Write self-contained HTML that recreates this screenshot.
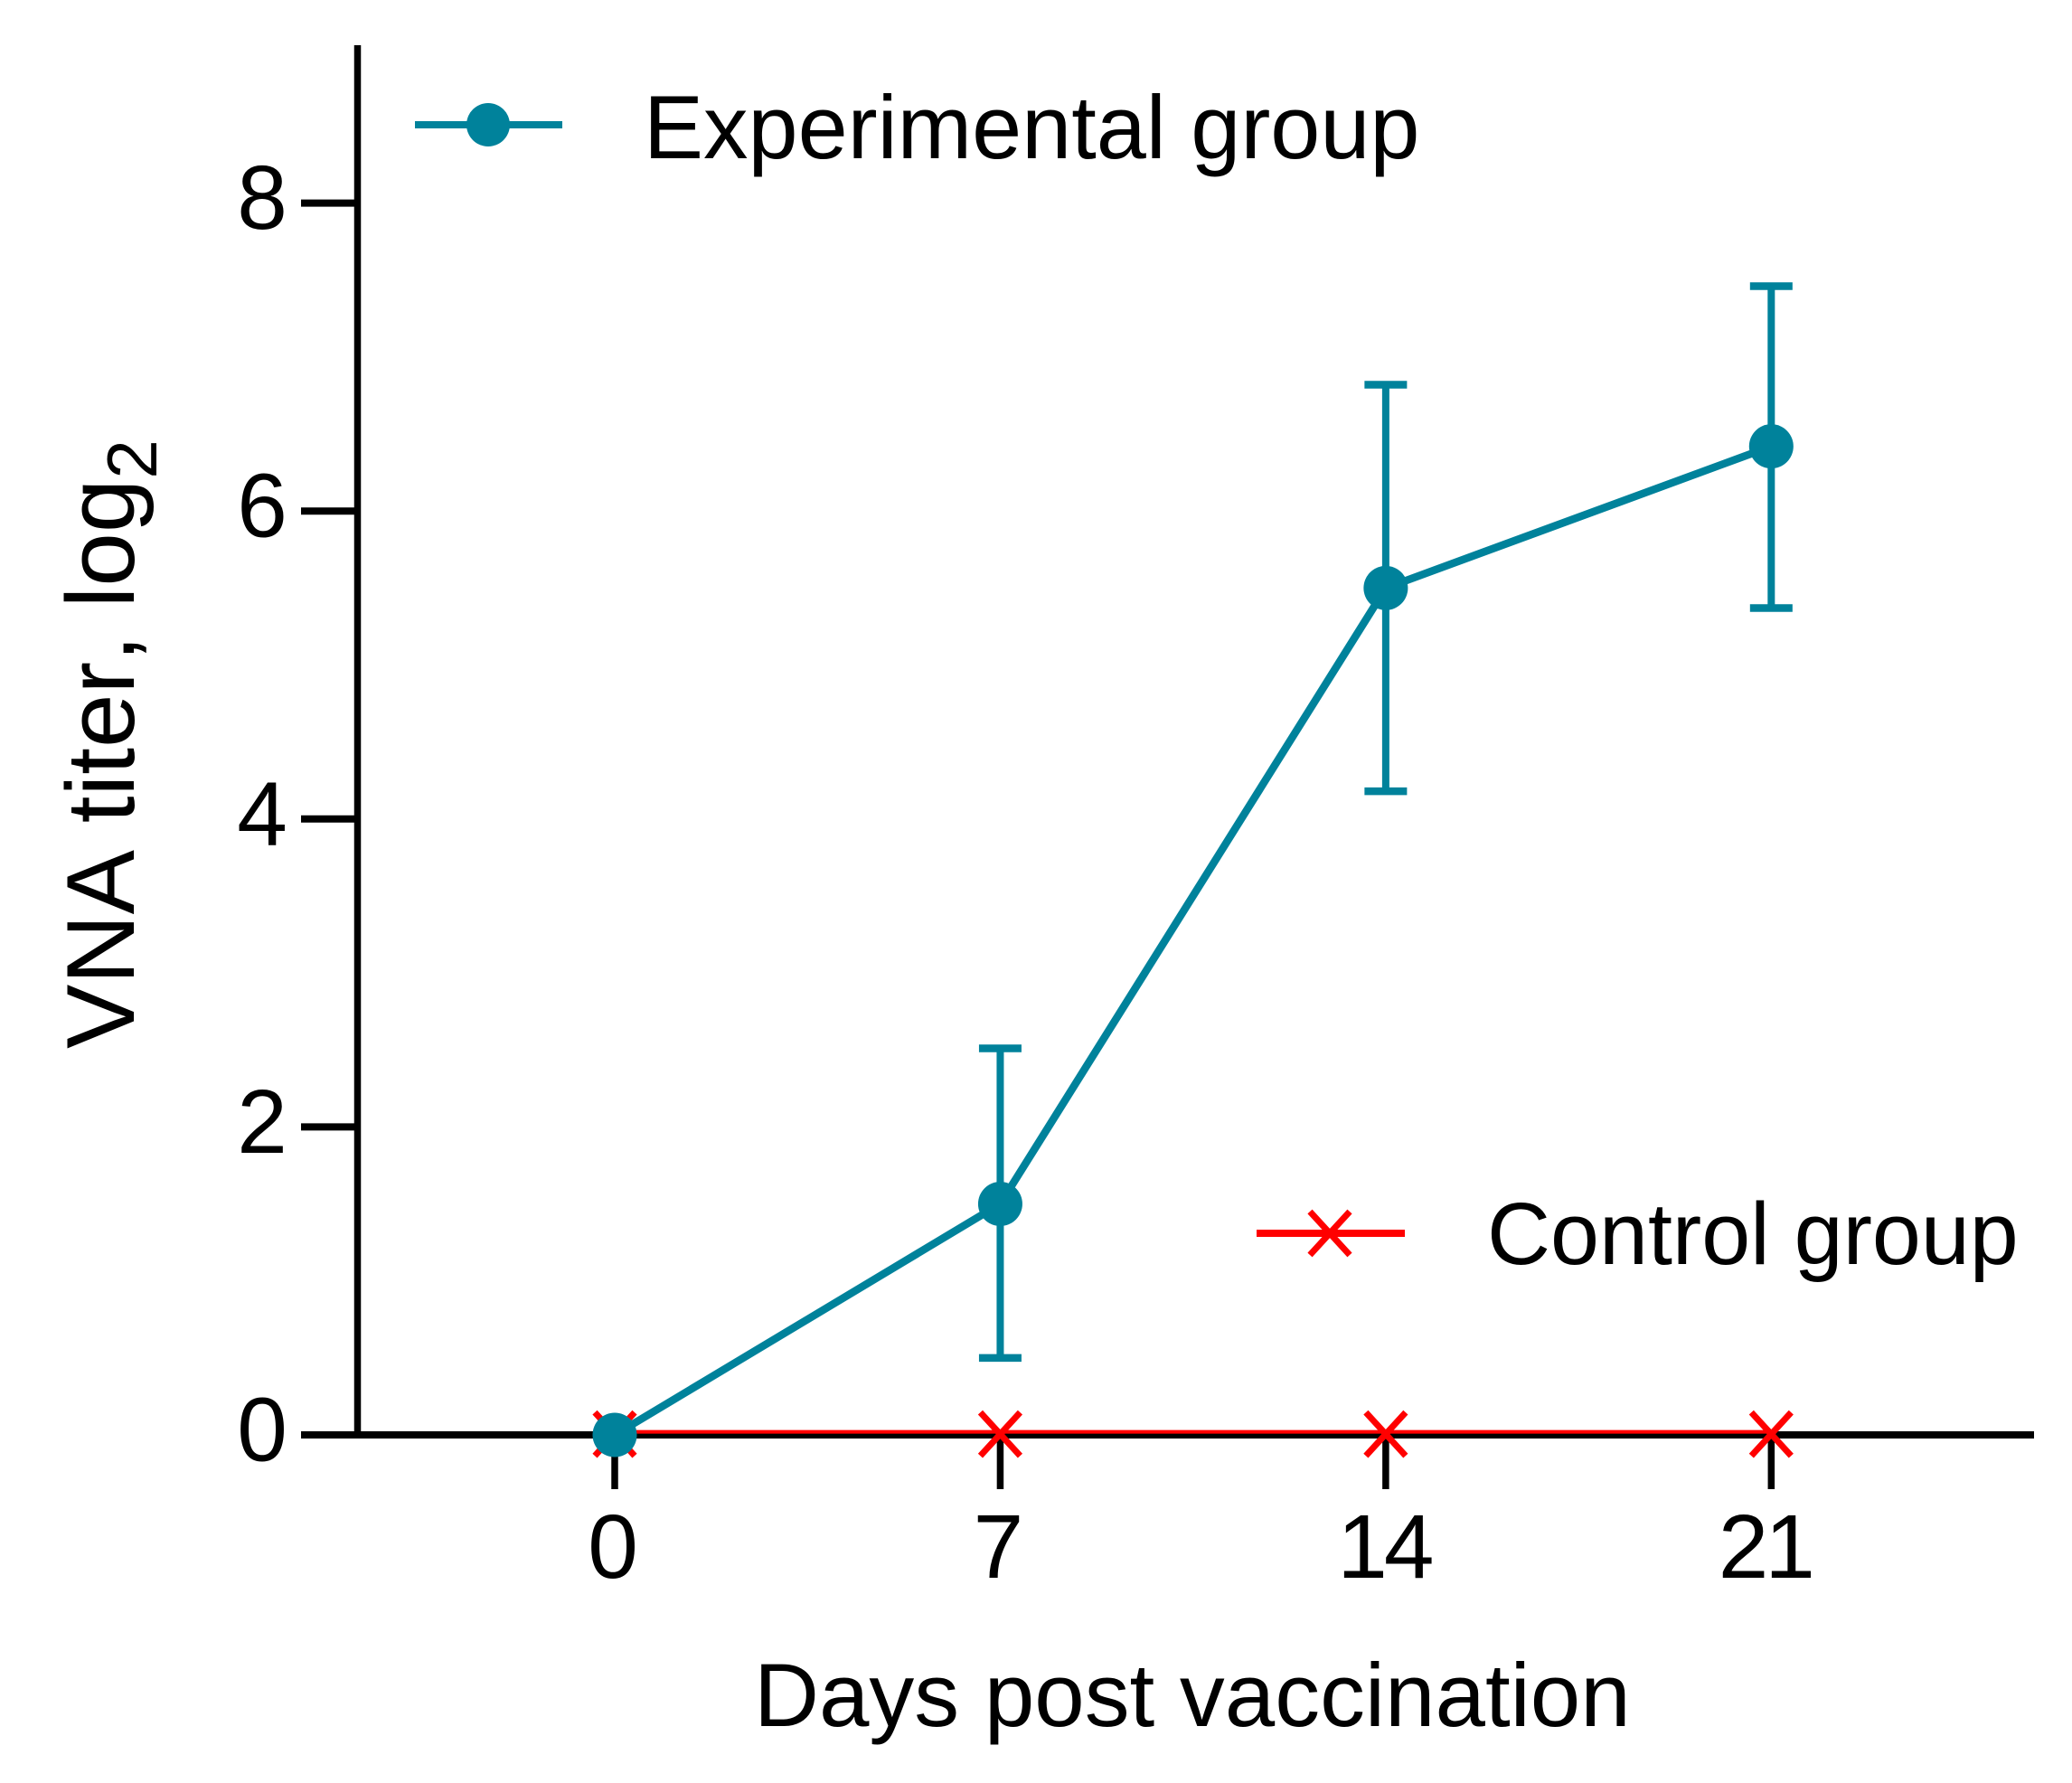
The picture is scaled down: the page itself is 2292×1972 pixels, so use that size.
<!DOCTYPE html>
<html lang="en">
<head>
<meta charset="utf-8">
<title>VNA titer chart</title>
<style>
html,body{margin:0;padding:0;background:#fff;}
svg{display:block;}
text{font-family:"Liberation Sans",Arial,sans-serif;font-size:100px;fill:#000;}
</style>
</head>
<body>
<svg id="chart" xmlns="http://www.w3.org/2000/svg" width="2292" height="1972" viewBox="0 0 2292 1972">
  <rect x="0" y="0" width="2292" height="1972" fill="#fff"/>
  <g id="axes"></g>
  <g id="marks"></g>
  <text x="834" y="1909" style="font-size:99.7px">Days post vaccination</text>
  <text transform="translate(148,1160) rotate(-90)" style="font-size:107px;font-kerning:none">VNA titer, log<tspan dy="25" style="font-size:78px">2</tspan></text>
  <g>
    <line x1="459" y1="138" x2="622" y2="138" stroke="#00829b" stroke-width="8"/>
    <circle cx="540" cy="138" r="24" fill="#00829b"/>
    <text x="712" y="175" style="font-size:99px">Experimental group</text>
  </g>
  <g>
    <line x1="1390" y1="1364" x2="1554" y2="1364" stroke="#ff0000" stroke-width="8"/>
    <path d="M1449 1340L1493 1388M1493 1340L1449 1388" stroke="#ff0000" stroke-width="7" fill="none"/>
    <text x="1645" y="1398" style="font-size:97px">Control group</text>
  </g>
</svg>
<script>
const days = [0, 7, 14, 21];
const xTickLabels = ['0', '7', '14', '21'];
const yTicks = [0, 2, 4, 6, 8];
const experimentalMean = [0, 1.5, 5.5, 6.42];
const experimentalUpper = [0, 2.51, 6.82, 7.46];
const experimentalLower = [0, 0.5, 4.18, 5.37];
const controlMean = [0.02, 0.02, 0.02, 0.02];

const NS = 'http://www.w3.org/2000/svg';
const TEAL = '#00829b';
const RED = '#ff0000';
function xScale(d) { return 680 + d * 60.92; }
function yScale(v) { return 1587 - v * 170.3; }
function make(tag, attrs, parent) {
  const el = document.createElementNS(NS, tag);
  for (const k in attrs) el.setAttribute(k, attrs[k]);
  parent.appendChild(el);
  return el;
}
const axes = document.getElementById('axes');
const marks = document.getElementById('marks');

const yAxis = make('line', {x1: 395.5, y1: 50, x2: 395.5, y2: yScale(0) + 3.5, stroke: '#000', 'stroke-width': 7.5}, axes);


const xAxis = make('line', {x1: 333, y1: yScale(0), x2: 2250, y2: yScale(0), stroke: '#000', 'stroke-width': 8}, axes);



yTicks.forEach(function (t) {
  const y = yScale(t);
  if (t !== 0) {
    const tick = make('line', {x1: 333, y1: y, x2: 395, y2: y, stroke: '#000', 'stroke-width': 8}, axes);
    
    
  }
  const label = make('text', {x: 290, y: y + 28.5, 'text-anchor': 'middle'}, axes);
  
  
  label.textContent = String(t);
});

days.forEach(function (d, i) {
  const x = xScale(d);
  const tick = make('line', {x1: x, y1: yScale(0), x2: x, y2: 1647, stroke: '#000', 'stroke-width': 7.5}, axes);
  
  
  const text = xTickLabels[i];
  const wide = text.length > 1;
  const nudge = wide ? (text.charAt(0) === '2' ? -7 : -2) : -2;
  const label = make('text', {x: x + nudge, y: 1745, 'text-anchor': 'middle'}, axes);
  if (wide) label.setAttribute('letter-spacing', '-4');
  
  
  label.textContent = text;
});

const controlLine = make('polyline', {
  points: days.map(function (d, i) { return xScale(d) + ',' + yScale(controlMean[i]); }).join(' '),
  fill: 'none', stroke: RED, 'stroke-width': 4
}, marks);



days.forEach(function (d, i) {
  const x = xScale(d), y = yScale(controlMean[i]) + 2.5;
  const cross = make('path', {
    d: 'M' + (x - 22) + ' ' + (y - 24) + 'L' + (x + 22) + ' ' + (y + 24) + 'M' + (x + 22) + ' ' + (y - 24) + 'L' + (x - 22) + ' ' + (y + 24),
    stroke: RED, 'stroke-width': 7, fill: 'none'
  }, marks);
  
  
});

const expLine = make('polyline', {
  points: days.map(function (d, i) { return xScale(d) + ',' + yScale(experimentalMean[i]); }).join(' '),
  fill: 'none', stroke: TEAL, 'stroke-width': 8.5
}, marks);



days.forEach(function (d, i) {
  const x = xScale(d);
  if (experimentalUpper[i] !== experimentalLower[i]) {
    const stem = make('line', {x1: x, y1: yScale(experimentalUpper[i]), x2: x, y2: yScale(experimentalLower[i]), stroke: TEAL, 'stroke-width': 8}, marks);
    
    
    const capTop = make('line', {x1: x - 23.5, y1: yScale(experimentalUpper[i]), x2: x + 23.5, y2: yScale(experimentalUpper[i]), stroke: TEAL, 'stroke-width': 8.5}, marks);
    
    
    const capBottom = make('line', {x1: x - 23.5, y1: yScale(experimentalLower[i]), x2: x + 23.5, y2: yScale(experimentalLower[i]), stroke: TEAL, 'stroke-width': 8.5}, marks);
    
    
  }
  const dot = make('circle', {cx: x, cy: yScale(experimentalMean[i]), r: 24.5, fill: TEAL}, marks);
  
  
});
</script>
</body>
</html>
